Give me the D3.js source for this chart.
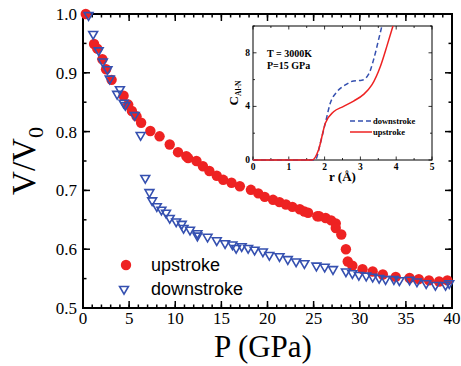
<!DOCTYPE html>
<html>
<head>
<meta charset="utf-8">
<script src="https://cdn.jsdelivr.net/npm/d3@7"></script>
<style>
  body { margin: 0; background: #fff; }
  svg { display: block; }
</style>
</head>
<body>
<div class="vis-holder"></div>
<script>
// upstroke (red circles): pressure in GPa and V/V0
var upP = [0.3, 1.2, 1.55, 2.1, 2.5, 3.1, 4.4, 4.9, 5.3, 5.8, 6.3, 7.3, 8.3, 9.4, 10.3, 11.2, 11.4, 12.3, 13.0, 13.7,
           14.5, 15.2, 16.1, 17.0, 18.2, 19.0, 19.7, 20.6, 21.3, 22.0, 22.7, 23.5, 24.0, 24.4, 25.4, 25.6, 26.3, 26.9,
           27.4, 27.4, 28.0, 28.5, 28.7, 29.2, 30.3, 31.4, 32.5, 33.9, 35.4, 36.4, 37.5, 38.6, 39.5];
var upV = [1.0, 0.949, 0.941, 0.923, 0.906, 0.888, 0.861, 0.846, 0.835, 0.826, 0.815, 0.801, 0.792, 0.778, 0.765, 0.758, 0.755, 0.750, 0.741, 0.733,
           0.725, 0.718, 0.713, 0.707, 0.701, 0.695, 0.689, 0.684, 0.680, 0.676, 0.672, 0.668, 0.664, 0.662, 0.656, 0.656, 0.653, 0.649,
           0.644, 0.636, 0.625, 0.600, 0.579, 0.572, 0.566, 0.562, 0.557, 0.553, 0.551, 0.549, 0.547, 0.545, 0.547];

// downstroke (blue open triangles)
var downP = [0.6, 1.1, 1.7, 2.15, 2.65, 2.9, 4.0, 3.7, 4.4, 4.6, 5.6, 6.25, 6.75, 7.2, 7.5, 8.0, 8.5, 9.0, 9.4, 10.1,
             10.7, 10.9, 11.6, 12.4, 12.4, 13.5, 14.5, 15.4, 16.2, 16.6, 17.2, 17.9, 18.6, 19.5, 20.2, 21.3, 22.2, 23.1,
             24.0, 25.3, 26.2, 27.1, 28.5, 29.2, 29.9, 30.7, 31.4, 32.1, 32.8, 33.7, 34.3, 35.4, 36.2, 37.2, 38.2, 39.3, 39.7];
var downV = [0.998, 0.966, 0.938, 0.919, 0.906, 0.890, 0.872, 0.864, 0.849, 0.845, 0.828, 0.794, 0.721, 0.697, 0.683, 0.673, 0.667, 0.662, 0.653, 0.647,
             0.643, 0.636, 0.633, 0.627, 0.623, 0.621, 0.615, 0.610, 0.608, 0.602, 0.605, 0.602, 0.599, 0.596, 0.590, 0.588, 0.583, 0.579,
             0.576, 0.572, 0.570, 0.566, 0.562, 0.559, 0.556, 0.555, 0.553, 0.551, 0.549, 0.549, 0.547, 0.548, 0.545, 0.542, 0.539, 0.539, 0.542];

// inset: coordination number C(Al-N) vs r at T = 3000K, P = 15 GPa
var rUp = [0, 1.65, 1.83, 2.02, 2.25, 2.53, 2.81, 3.09, 3.32, 3.56, 3.74, 3.91];
var cUp = [0, 0, 0.75, 2.75, 3.6, 4.0, 4.4, 4.9, 5.6, 7.0, 8.5, 10];
var rDown = [0, 1.74, 1.88, 2.02, 2.16, 2.35, 2.58, 2.81, 3.04, 3.23, 3.37, 3.51, 3.6];
var cDown = [0, 0, 1.25, 2.75, 4.25, 5.1, 5.6, 5.9, 5.95, 6.4, 7.5, 9, 10];

// tick labels
var xTicks = [0, 5, 10, 15, 20, 25, 30, 35, 40];
var yTicks = [0.5, 0.6, 0.7, 0.8, 0.9, 1.0];
var rTicks = [0, 1, 2, 3, 4, 5];
var cTicks = [0, 4, 8];

var width = 461;
var height = 366;
var margin = { top: 14, bottom: 58, left: 83, right: 9 };

var red = "#ee2222";
var blue = "#3550b0";
var serif = "'Liberation Serif', 'Times New Roman', serif";
var sans = "'Liberation Sans', Arial, sans-serif";

var svg = d3.select(".vis-holder")
            .append("svg")
            .attr("width", width)
            .attr("height", height);

var xScale = d3.scaleLinear().domain([0, 40]).range([margin.left, width - margin.right]);
var yScale = d3.scaleLinear().domain([0.5, 1.0]).range([height - margin.bottom, margin.top]);

// ticks on all four sides, pointing inward
function ticks(g, scale, values, len, side) {
  values.forEach(function(v) {
    var p = scale(v);
    if (side == "bottom") g.append("line").attr("x1", p).attr("x2", p).attr("y1", yScale.range()[0]).attr("y2", yScale.range()[0] - len);
    if (side == "top") g.append("line").attr("x1", p).attr("x2", p).attr("y1", yScale.range()[1]).attr("y2", yScale.range()[1] + len);
    if (side == "left") g.append("line").attr("y1", p).attr("y2", p).attr("x1", xScale.range()[0]).attr("x2", xScale.range()[0] + len);
    if (side == "right") g.append("line").attr("y1", p).attr("y2", p).attr("x1", xScale.range()[1]).attr("x2", xScale.range()[1] - len);
  });
}

var tickG = svg.append("g").attr("stroke", "#000").attr("stroke-width", 1.5);
var xMinor = d3.range(0, 41, 1);
var yMinor = d3.range(0, 11).map(function(i) { return 0.5 + i * 0.05; });
["bottom", "top"].forEach(function(s) {
  ticks(tickG, xScale, xMinor, 3.5, s);
  ticks(tickG, xScale, xTicks, 7, s);
});
["left", "right"].forEach(function(s) {
  ticks(tickG, yScale, yMinor, 3.5, s);
  ticks(tickG, yScale, yTicks, 7, s);
});

// frame
svg.append("rect")
   .attr("x", xScale(0)).attr("y", yScale(1.0))
   .attr("width", xScale(40) - xScale(0))
   .attr("height", yScale(0.5) - yScale(1.0))
   .attr("fill", "none").attr("stroke", "#000").attr("stroke-width", 2);

// tick labels
svg.append("g").selectAll("text").data(xTicks).enter().append("text")
   .attr("x", function(d) { return xScale(d); })
   .attr("y", yScale(0.5) + 16)
   .attr("text-anchor", "middle")
   .attr("font-family", serif).attr("font-size", 17)
   .text(function(d) { return d; });

svg.append("g").selectAll("text").data(yTicks).enter().append("text")
   .attr("x", xScale(0) - 6)
   .attr("y", function(d) { return yScale(d) + 6; })
   .attr("text-anchor", "end")
   .attr("font-family", serif).attr("font-size", 17)
   .text(function(d) { return d3.format(".1f")(d); });

// axis titles
svg.append("text")
   .attr("text-anchor", "middle")
   .attr("transform", "translate(" + 263 + "," + 357 + ")")
   .attr("font-family", serif).attr("font-size", 31)
   .text("P (GPa)");

var yLabel = svg.append("text")
   .attr("text-anchor", "middle")
   .attr("transform", "translate(" + 35 + "," + yScale(0.75) + ")rotate(-90)")
   .attr("font-family", serif).attr("font-size", 33);
yLabel.append("tspan").text("V/V");
yLabel.append("tspan").attr("font-size", 22).attr("dy", 8).text("0");

// data marks
var tri = d3.symbol().type(d3.symbolTriangle).size(34);

svg.append("g").selectAll("circle").data(upP).enter().append("circle")
   .attr("cx", function(d) { return xScale(d); })
   .attr("cy", function(d, i) { return yScale(upV[i]); })
   .attr("r", 5.2)
   .attr("fill", red);

svg.append("g").selectAll("path").data(downP).enter().append("path")
   .attr("d", tri)
   .attr("transform", function(d, i) { return "translate(" + xScale(d) + "," + yScale(downV[i]) + ")rotate(180)"; })
   .attr("fill", "none")
   .attr("stroke", blue)
   .attr("stroke-width", 1.6);

// main legend
svg.append("circle").attr("cx", 126).attr("cy", 265).attr("r", 5.2).attr("fill", red);
svg.append("text").attr("x", 151).attr("y", 271)
   .attr("font-family", sans).attr("font-size", 18).text("upstroke");
svg.append("path").attr("d", tri).attr("transform", "translate(124,289)rotate(180)")
   .attr("fill", "none").attr("stroke", blue).attr("stroke-width", 1.6);
svg.append("text").attr("x", 151).attr("y", 295)
   .attr("font-family", sans).attr("font-size", 18).text("downstroke");

// ---- inset ----
var rScale = d3.scaleLinear().domain([0, 5]).range([253, 432]);
var cScale = d3.scaleLinear().domain([0, 10]).range([160, 26]);
var inset = svg.append("g");

var insetTicks = inset.append("g").attr("stroke", "#000").attr("stroke-width", 0.8);
d3.range(0, 11).forEach(function(i) {
  var p = rScale(i * 0.5);
  var len = i % 2 == 0 ? 3.5 : 2;
  insetTicks.append("line").attr("x1", p).attr("x2", p).attr("y1", cScale(0)).attr("y2", cScale(0) - len);
  insetTicks.append("line").attr("x1", p).attr("x2", p).attr("y1", cScale(10)).attr("y2", cScale(10) + len);
});
d3.range(0, 6).forEach(function(i) {
  var p = cScale(i * 2);
  var len = i % 2 == 0 ? 3.5 : 2;
  insetTicks.append("line").attr("y1", p).attr("y2", p).attr("x1", rScale(0)).attr("x2", rScale(0) + len);
  insetTicks.append("line").attr("y1", p).attr("y2", p).attr("x1", rScale(5)).attr("x2", rScale(5) - len);
});

inset.append("rect")
     .attr("x", rScale(0)).attr("y", cScale(10))
     .attr("width", rScale(5) - rScale(0)).attr("height", cScale(0) - cScale(10))
     .attr("fill", "none").attr("stroke", "#000").attr("stroke-width", 1);

inset.append("g").selectAll("text").data(rTicks).enter().append("text")
     .attr("x", function(d) { return rScale(d); })
     .attr("y", cScale(0) + 10)
     .attr("text-anchor", "middle")
     .attr("font-family", serif).attr("font-size", 9.5).attr("font-weight", "bold")
     .text(function(d) { return d; });

inset.append("g").selectAll("text").data(cTicks).enter().append("text")
     .attr("x", rScale(0) - 3)
     .attr("y", function(d) { return cScale(d) + 3; })
     .attr("text-anchor", "end")
     .attr("font-family", serif).attr("font-size", 9.5).attr("font-weight", "bold")
     .text(function(d) { return d; });

inset.append("text")
     .attr("x", rScale(2.5)).attr("y", 181)
     .attr("text-anchor", "middle")
     .attr("font-family", serif).attr("font-size", 13).attr("font-weight", "bold")
     .text("r (Å)");

var cLabel = inset.append("text")
     .attr("text-anchor", "middle")
     .attr("transform", "translate(" + 238 + "," + cScale(5) + ")rotate(-90)")
     .attr("font-family", serif).attr("font-size", 13).attr("font-weight", "bold");
cLabel.append("tspan").text("C");
cLabel.append("tspan").attr("font-size", 7.5).attr("dy", 3).text("Al-N");

inset.append("text").attr("x", 267).attr("y", 57)
     .attr("font-family", serif).attr("font-size", 10).attr("font-weight", "bold").text("T = 3000K");
inset.append("text").attr("x", 267).attr("y", 69)
     .attr("font-family", serif).attr("font-size", 10).attr("font-weight", "bold").text("P=15 GPa");

var lineDown = d3.line()
                 .x(function(d) { return rScale(d); })
                 .y(function(d, i) { return cScale(cDown[i]); })
                 .curve(d3.curveMonotoneX);
var lineUp = d3.line()
               .x(function(d) { return rScale(d); })
               .y(function(d, i) { return cScale(cUp[i]); })
               .curve(d3.curveMonotoneX);

inset.append("path").attr("d", lineDown(rDown))
     .attr("fill", "none").attr("stroke", blue).attr("stroke-width", 1.5).attr("stroke-dasharray", "5,3");
inset.append("path").attr("d", lineUp(rUp))
     .attr("fill", "none").attr("stroke", red).attr("stroke-width", 1.5);

// inset legend
inset.append("line").attr("x1", 350).attr("x2", 372).attr("y1", 121).attr("y2", 121)
     .attr("stroke", blue).attr("stroke-width", 1.5).attr("stroke-dasharray", "5,3");
inset.append("text").attr("x", 373).attr("y", 124)
     .attr("font-family", serif).attr("font-size", 8.5).attr("font-weight", "bold").text("downstroke");
inset.append("line").attr("x1", 350).attr("x2", 372).attr("y1", 132).attr("y2", 132)
     .attr("stroke", red).attr("stroke-width", 1.5);
inset.append("text").attr("x", 373).attr("y", 135)
     .attr("font-family", serif).attr("font-size", 8.5).attr("font-weight", "bold").text("upstroke");
</script>
</body>
</html>
